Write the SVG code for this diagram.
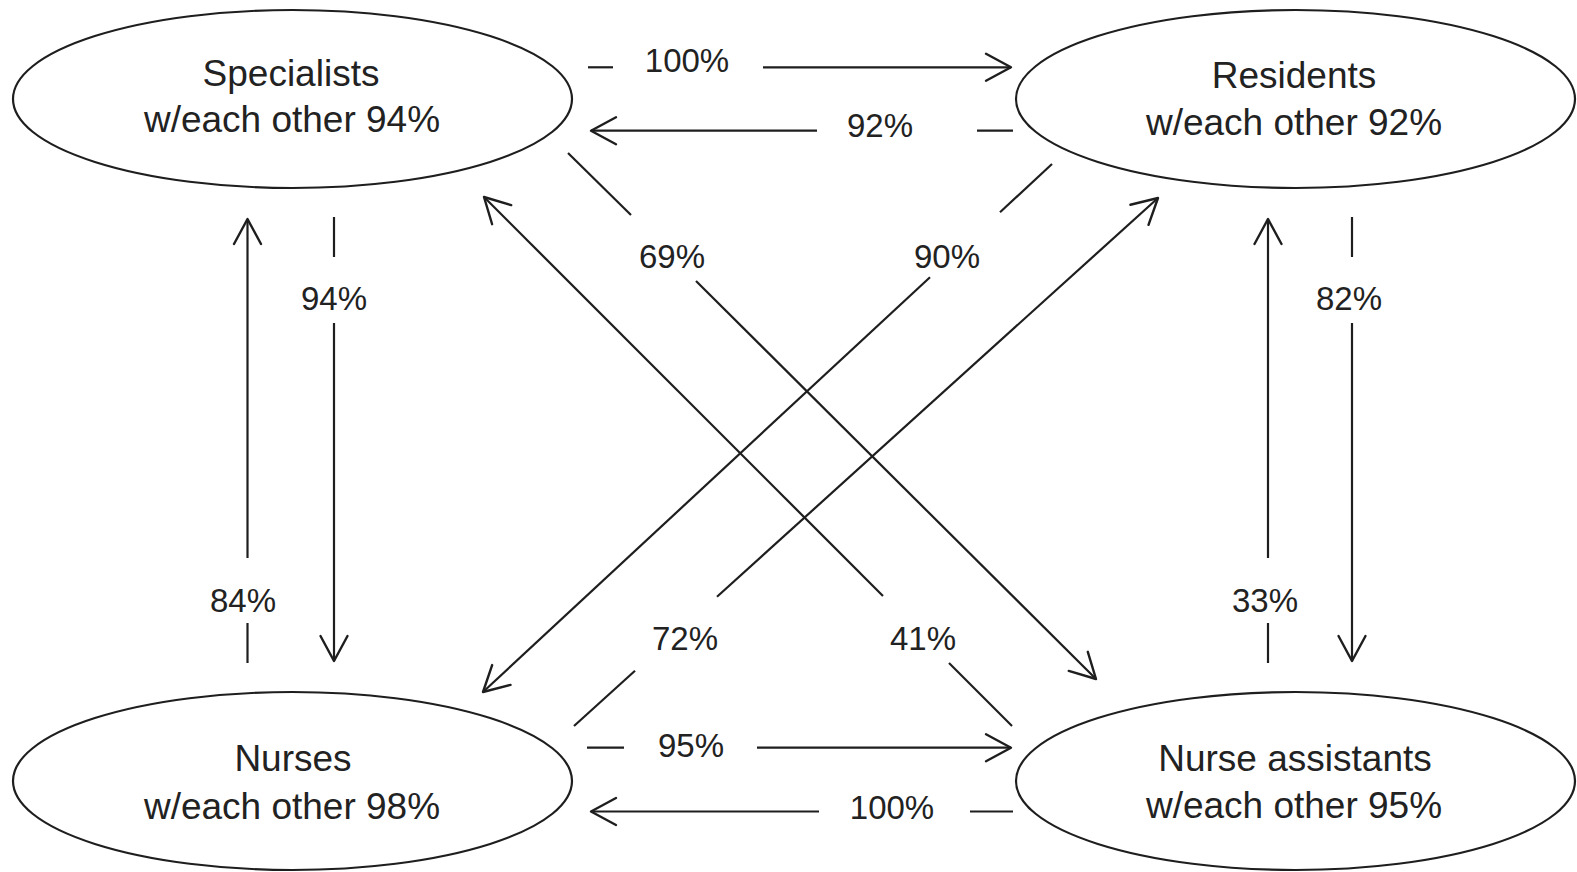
<svg xmlns="http://www.w3.org/2000/svg" width="1577" height="872" viewBox="0 0 1577 872">
<style>
.node ellipse{fill:#fff;stroke:#1e1e1e;stroke-width:2.2}
.node text{font-family:"Liberation Sans",Arial,sans-serif;font-size:37px;fill:#222;text-anchor:middle}
.conn line{stroke:#1e1e1e;stroke-width:2.2;fill:none}
.lbl{font-family:"Liberation Sans",Arial,sans-serif;font-size:33px;fill:#222;text-anchor:middle}
</style>
<defs>
<marker id="arr" markerUnits="userSpaceOnUse" markerWidth="40" markerHeight="40" viewBox="-30 -20 40 40" refX="0" refY="0" orient="auto">
<path d="M-25,-13.5 L0,0 L-25,13.5" fill="none" stroke="#1e1e1e" stroke-width="2.4" stroke-linejoin="round" stroke-linecap="round"/>
</marker>
</defs>
<rect width="1577" height="872" fill="#fff"/>
<g id="specialists" class="node">
<ellipse cx="292.5" cy="99" rx="279.5" ry="89"/>
<text x="291" y="85.5">Specialists</text>
<text x="292" y="132">w/each other 94%</text>
</g>
<g id="residents" class="node">
<ellipse cx="1295.5" cy="99" rx="279.5" ry="89"/>
<text x="1294" y="88">Residents</text>
<text x="1294" y="135">w/each other 92%</text>
</g>
<g id="nurses" class="node">
<ellipse cx="292.5" cy="781" rx="279.5" ry="89"/>
<text x="293" y="771">Nurses</text>
<text x="292" y="819">w/each other 98%</text>
</g>
<g id="nurse-assistants" class="node">
<ellipse cx="1295.5" cy="781" rx="279.5" ry="89"/>
<text x="1295" y="771">Nurse assistants</text>
<text x="1294" y="818">w/each other 95%</text>
</g>
<g id="connectors" class="conn">
<!-- Specialists -> Residents 100% -->
<line x1="588" y1="67.3" x2="613" y2="67.3"/>
<line x1="763" y1="67.3" x2="1011" y2="67.3" marker-end="url(#arr)"/>
<!-- Residents -> Specialists 92% -->
<line x1="1013" y1="130.7" x2="977" y2="130.7"/>
<line x1="817" y1="130.7" x2="591" y2="130.7" marker-end="url(#arr)"/>
<!-- Nurses -> Nurse assistants 95% -->
<line x1="587" y1="747.7" x2="624" y2="747.7"/>
<line x1="757" y1="747.7" x2="1011" y2="747.7" marker-end="url(#arr)"/>
<!-- Nurse assistants -> Nurses 100% -->
<line x1="1013" y1="811.5" x2="970" y2="811.5"/>
<line x1="819" y1="811.5" x2="591" y2="811.5" marker-end="url(#arr)"/>
<!-- Nurses -> Specialists 84% -->
<line x1="247.5" y1="663" x2="247.5" y2="623"/>
<line x1="247.5" y1="558" x2="247.5" y2="219" marker-end="url(#arr)"/>
<!-- Specialists -> Nurses 94% -->
<line x1="334" y1="217" x2="334" y2="257"/>
<line x1="334" y1="323" x2="334" y2="661" marker-end="url(#arr)"/>
<!-- Nurse assistants -> Residents 33% -->
<line x1="1268" y1="663" x2="1268" y2="623"/>
<line x1="1268" y1="558" x2="1268" y2="219" marker-end="url(#arr)"/>
<!-- Residents -> Nurse assistants 82% -->
<line x1="1352" y1="217" x2="1352" y2="257"/>
<line x1="1352" y1="323" x2="1352" y2="661" marker-end="url(#arr)"/>
<!-- Specialists -> Nurse assistants 69% -->
<line x1="568" y1="153" x2="631" y2="215"/>
<line x1="696" y1="281" x2="1096" y2="679" marker-end="url(#arr)"/>
<!-- Nurse assistants -> Specialists 41% -->
<line x1="1012" y1="726" x2="949" y2="663"/>
<line x1="883" y1="596" x2="484" y2="197" marker-end="url(#arr)"/>
<!-- Residents -> Nurses 90% -->
<line x1="1052" y1="164" x2="1000" y2="212.3"/>
<line x1="930" y1="277.2" x2="483" y2="692" marker-end="url(#arr)"/>
<!-- Nurses -> Residents 72% -->
<line x1="574" y1="726" x2="635" y2="670.8"/>
<line x1="717" y1="596.7" x2="1158" y2="198" marker-end="url(#arr)"/>
</g>
<g id="labels">
<text class="lbl" x="687" y="72">100%</text>
<text class="lbl" x="880" y="137">92%</text>
<text class="lbl" x="334" y="310">94%</text>
<text class="lbl" x="243" y="612">84%</text>
<text class="lbl" x="1349" y="310">82%</text>
<text class="lbl" x="1265" y="612">33%</text>
<text class="lbl" x="672" y="268">69%</text>
<text class="lbl" x="947" y="268">90%</text>
<text class="lbl" x="685" y="650">72%</text>
<text class="lbl" x="923" y="650">41%</text>
<text class="lbl" x="691" y="757">95%</text>
<text class="lbl" x="892" y="819">100%</text>
</g>
</svg>
